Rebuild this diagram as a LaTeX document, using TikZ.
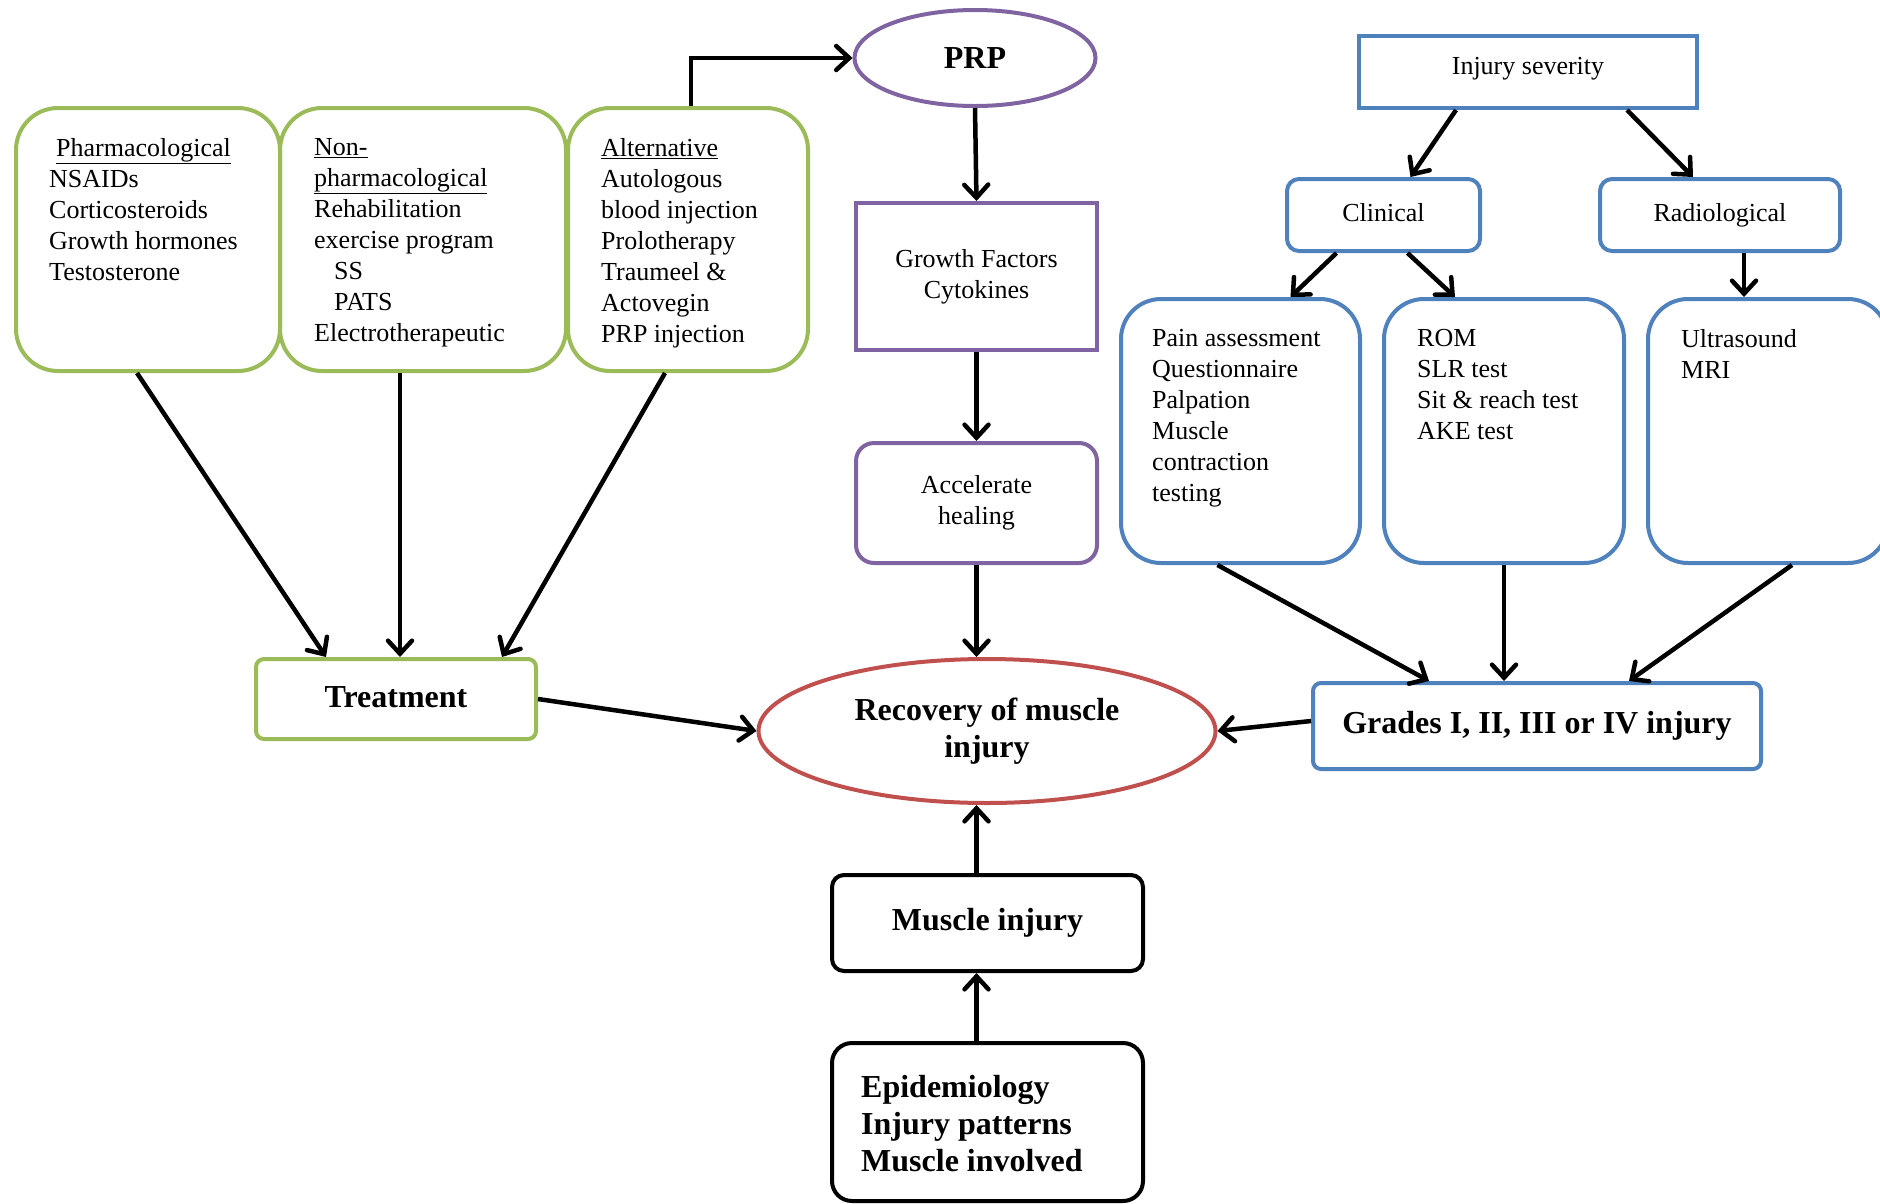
\documentclass[tikz,border=0pt]{standalone}
\usepackage{fontspec}
\setmainfont{Liberation Serif}
\usetikzlibrary{arrows.meta,shapes.geometric,positioning}
\definecolor{vgreen}{RGB}{155,187,89}
\definecolor{vpurple}{RGB}{128,100,162}
\definecolor{vblue}{RGB}{79,129,189}
\definecolor{vred}{RGB}{192,80,77}
\tikzset{
  box/.style={draw, line width=4pt, anchor=north west, inner sep=0pt},
  txt/.style={anchor=north west, align=left, inner sep=0pt, font=\fontsize{26}{31}\selectfont},
  mid/.style={font=\fontsize{26}{31}\selectfont, align=center},
  big/.style={font=\fontsize{32}{37}\selectfont\bfseries, align=center},
  arr/.style={line width=4.5pt, -{Straight Barb[length=13pt,width=24pt,line cap=round]}}
}
\begin{document}
\begin{tikzpicture}[x=1pt,y=-1pt]
\useasboundingbox (0,0) rectangle (1880,1203);
\node[box, draw=vgreen, rounded corners=42pt, minimum width=264pt, minimum height=263pt] (pharm) at (14,106) {};
\node[box, draw=vgreen, rounded corners=42pt, minimum width=286pt, minimum height=263pt] (nonpharm) at (278,106) {};
\node[box, draw=vgreen, rounded corners=42pt, minimum width=240pt, minimum height=263pt] (alt) at (566,106) {};
\node[txt] (pharmtxt) at ([shift={(35,32)}]pharm.north west) {\hspace*{7pt}\underline{Pharmacological}\\NSAIDs\\Corticosteroids\\Growth hormones\\Testosterone};
\node[txt] (nonpharmtxt) at ([shift={(36,32)}]nonpharm.north west) {\underline{Non-}\\\underline{pharmacological}\\Rehabilitation\\exercise program\\\hspace*{20pt}SS\\\hspace*{20pt}PATS\\Electrotherapeutic};
\node[txt] (alttxt) at ([shift={(35,32)}]alt.north west) {\underline{Alternative}\\Autologous\\blood injection\\Prolotherapy\\Traumeel \&\\Actovegin\\PRP injection};
\node[draw=vpurple, line width=4pt, ellipse, inner sep=0pt, minimum width=241pt, minimum height=96pt, big] (prp) at (975,58) {PRP};
\node[box, draw=vpurple, minimum width=241pt, minimum height=147pt, mid] (growth) at (854,201) {Growth Factors\\Cytokines};
\node[box, draw=vpurple, rounded corners=18pt, minimum width=241pt, minimum height=120pt, mid] (heal) at (854,441) {Accelerate\\healing};
\node[draw=vred, line width=4pt, ellipse, inner sep=0pt, minimum width=457pt, minimum height=144pt, big] (recov) at (987,731) {Recovery of muscle\\injury};
\node[box, draw=vgreen, rounded corners=8pt, minimum width=280pt, minimum height=80pt, big] (treat) at (254,657) {\raisebox{4pt}{Treatment}};
\node[box, draw=vblue, rounded corners=8pt, minimum width=448pt, minimum height=86pt, big] (grades) at (1311,681) {\raisebox{3pt}{Grades I, II, III or IV injury}};
\node[box, rounded corners=12pt, minimum width=311pt, minimum height=96pt, big] (injury) at (830,873) {Muscle injury};
\node[box, rounded corners=20pt, minimum width=311pt, minimum height=158pt] (epi) at (830,1041) {};
\node[txt, big, align=left] (epitxt) at ([shift={(31,34)}]epi.north west) {Epidemiology\\Injury patterns\\Muscle involved};
\node[box, draw=vblue, minimum width=338pt, minimum height=72pt, mid] (severity) at (1357,34) {\raisebox{12pt}{Injury severity}};
\node[box, draw=vblue, rounded corners=12pt, minimum width=193pt, minimum height=72pt, mid] (clin) at (1285,177) {\raisebox{5pt}{Clinical}};
\node[box, draw=vblue, rounded corners=12pt, minimum width=240pt, minimum height=72pt, mid] (radio) at (1598,177) {\raisebox{3pt}{Radiological}};
\node[box, draw=vblue, rounded corners=40pt, minimum width=239pt, minimum height=264pt] (pain) at (1119,297) {};
\node[box, draw=vblue, rounded corners=40pt, minimum width=240pt, minimum height=264pt] (rom) at (1382,297) {};
\node[box, draw=vblue, rounded corners=40pt, minimum width=240pt, minimum height=264pt] (imaging) at (1646,297) {};
\node[txt] (paintxt) at ([shift={(33,32)}]pain.north west) {Pain assessment\\Questionnaire\\Palpation\\Muscle\\contraction\\testing};
\node[txt] (romtxt) at ([shift={(35,32)}]rom.north west) {ROM\\SLR test\\Sit \& reach test\\AKE test};
\node[txt] (imagingtxt) at ([shift={(35,32)}]imaging.north west) {Ultrasound\\MRI};
\draw[arr] ([xshift=3pt]alt.north) |- (prp.west);
\draw[arr] (prp.south) -- (growth.north);
\draw[arr] (growth.south) -- (heal.north);
\draw[arr] (heal.south) -- (heal.south |- recov.north);
\draw[arr] ([xshift=-11pt]pharm.south) -- ([xshift=72pt]treat.north west);
\draw[arr] ([xshift=-23pt]nonpharm.south) -- ([xshift=4pt]treat.north);
\draw[arr] ([xshift=-23pt]alt.south) -- ([xshift=-36pt]treat.north east);
\draw[arr] (treat.east) -- (recov.west);
\draw[arr] ([yshift=5pt]grades.west) -- (recov.east);
\draw[arr] (injury.north -| heal.south) -- (heal.south |- recov.south);
\draw[arr] (epi.north -| heal.south) -- (heal.south |- injury.south);
\draw[arr] ([xshift=-72pt]severity.south) -- ([xshift=27pt]clin.north);
\draw[arr] ([xshift=99pt]severity.south) -- ([xshift=-27pt]radio.north);
\draw[arr] ([xshift=-47pt]clin.south) -- ([xshift=50pt]pain.north);
\draw[arr] ([xshift=24pt]clin.south) -- ([xshift=-49pt]rom.north);
\draw[arr] ([xshift=24pt]radio.south) -- ([xshift=-24pt]imaging.north);
\draw[arr] ([xshift=-23pt]pain.south) -- ([xshift=-108pt]grades.north);
\draw[arr] (rom.south) -- ([xshift=-33pt]grades.north);
\draw[arr] ([xshift=24pt]imaging.south) -- ([xshift=92pt]grades.north);
\end{tikzpicture}
\end{document}
